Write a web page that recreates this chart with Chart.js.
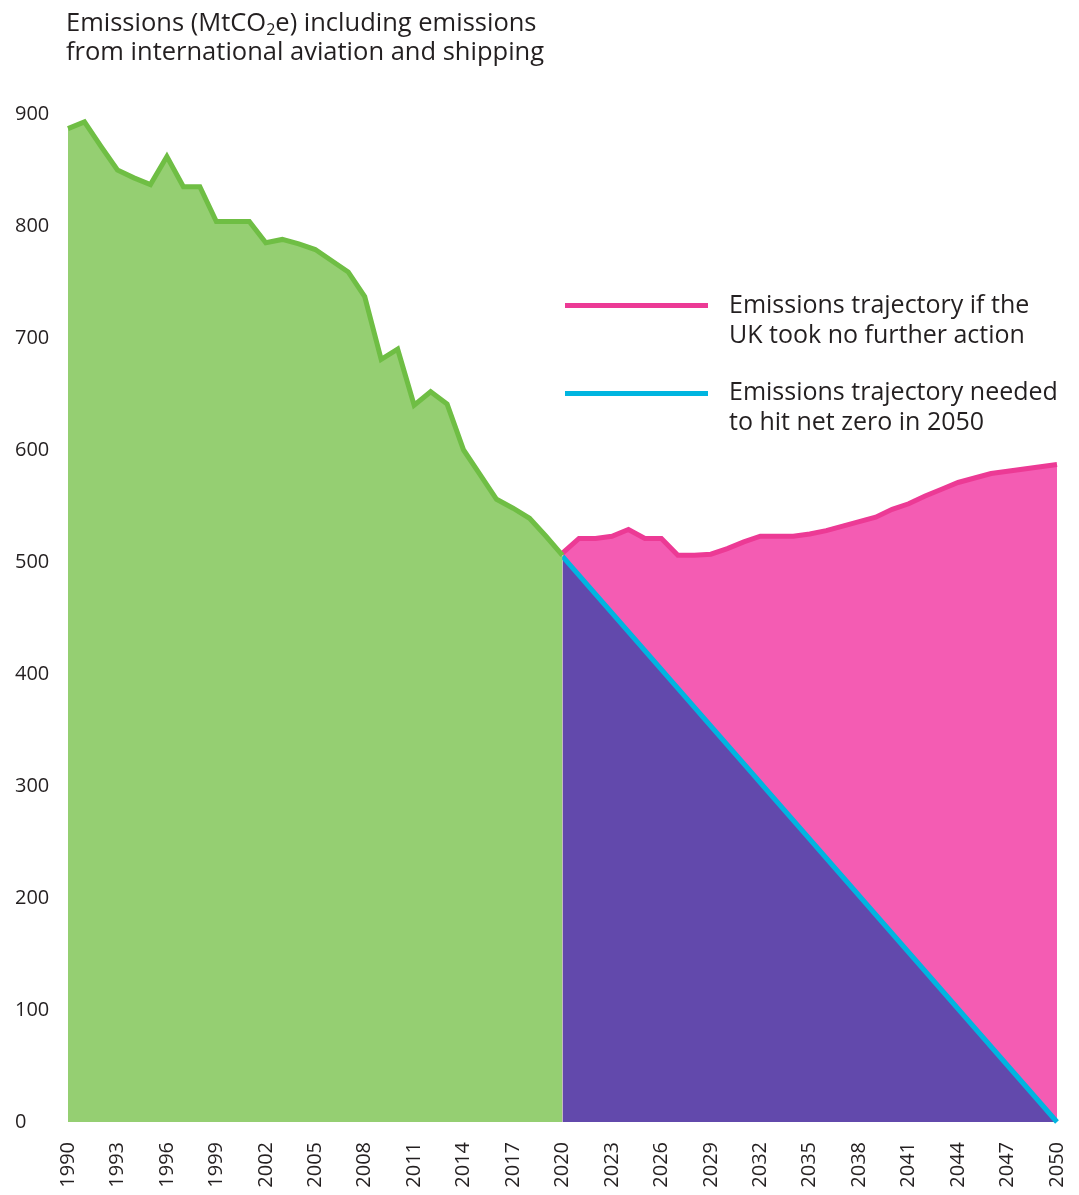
<!DOCTYPE html>
<html>
<head>
<meta charset="utf-8">
<script src="https://cdn.jsdelivr.net/npm/chart.js@4/dist/chart.umd.min.js"></script>
<style>
  html, body { margin: 0; padding: 0; background: #ffffff; }
  body { width: 1079px; height: 1195px; position: relative; overflow: hidden;
         font-family: "Open Sans", "Noto Sans", sans-serif; color: #231f20; }
  #wrap { position: absolute; left: 0; top: 0; width: 1079px; height: 1195px; }
  .title { position: absolute; left: 66px; top: 7px; font-size: 25.5px; line-height: 29px; white-space: nowrap; }
  .title sub { font-size: 16px; vertical-align: -4px; line-height: 0; }
  .legend-item { position: absolute; left: 565px; }
  .legend-swatch { position: absolute; left: 0; width: 143px; height: 5px; }
  .legend-text { position: absolute; left: 164px; font-size: 25px; line-height: 30px; white-space: nowrap; }
</style>
</head>
<body>
<div id="wrap"><canvas id="chart" width="1079" height="1195"></canvas></div>
<div class="title">Emissions (MtCO<sub>2</sub>e) including emissions<br>from international aviation and shipping</div>
<div id="legend"></div>
<script>
// Historic emissions, 1990–2020 (MtCO2e)
const historicYears = [1990, 1991, 1992, 1993, 1994, 1995, 1996, 1997, 1998, 1999, 2000,
  2001, 2002, 2003, 2004, 2005, 2006, 2007, 2008, 2009, 2010,
  2011, 2012, 2013, 2014, 2015, 2016, 2017, 2018, 2019, 2020];
const historicValues = [887, 893, 871, 850, 843, 837, 862, 835, 835, 804, 804,
  804, 785, 788, 784, 779, 769, 759, 737, 681, 690,
  640, 652, 641, 600, 578, 556, 548, 539, 523, 506];

// Projection with no further action, 2020–2050
const projectionYears = [2020, 2021, 2022, 2023, 2024, 2025, 2026, 2027, 2028, 2029, 2030,
  2031, 2032, 2033, 2034, 2035, 2036, 2037, 2038, 2039, 2040,
  2041, 2042, 2043, 2044, 2045, 2046, 2047, 2048, 2049, 2050];
const noActionValues = [508, 521, 521, 523, 529, 521, 521, 506, 506, 507, 512,
  518, 523, 523, 523, 525, 528, 532, 536, 540, 547,
  552, 559, 565, 571, 575, 579, 581, 583, 585, 587];

// Pathway to net zero in 2050
const netZeroYears = [2020, 2050];
const netZeroValues = [505, 0];

// Axis ticks
const xTickYears = [1990, 1993, 1996, 1999, 2002, 2005, 2008, 2011, 2014, 2017, 2020,
  2023, 2026, 2029, 2032, 2035, 2038, 2041, 2044, 2047, 2050];
const yTickValues = [0, 100, 200, 300, 400, 500, 600, 700, 800, 900];

// Legend entries
const legendLabels = [
  ["Emissions trajectory if the", "UK took no further action"],
  ["Emissions trajectory needed", "to hit net zero in 2050"]
];

const COLORS = {
  greenFill: '#95cf72', greenLine: '#6fbe44',
  pinkFill: '#f45cb3', pinkLine: '#ec3a95',
  purpleFill: '#6249ac', blueLine: '#00b5e0',
  text: '#231f20'
};

const toPoints = (xs, ys) => xs.map((x, i) => ({ x: x, y: ys[i] }));

// Legend markup
const legendEl = document.getElementById('legend');
const legendColors = [COLORS.pinkLine, COLORS.blueLine];
const legendTops = [288, 375];
legendLabels.forEach((lines, i) => {
  const item = document.createElement('div');
  item.className = 'legend-item';
  item.style.top = legendTops[i] + 'px';
  const sw = document.createElement('div');
  sw.className = 'legend-swatch';
  sw.style.background = legendColors[i];
  sw.style.top = (i === 0 ? 14.5 : 15.5) + 'px';
  const tx = document.createElement('div');
  tx.className = 'legend-text';
  tx.style.top = '0px';
  tx.innerHTML = lines.join('<br>');
  item.appendChild(sw);
  item.appendChild(tx);
  legendEl.appendChild(item);
});

const tickFont = { family: '"Open Sans", "Noto Sans", sans-serif', size: 20 };

new Chart(document.getElementById('chart'), {
  type: 'line',
  data: {
    datasets: [
      {
        label: 'Historic emissions',
        data: toPoints(historicYears, historicValues),
        borderColor: COLORS.greenLine,
        backgroundColor: COLORS.greenFill,
        borderWidth: 5,
        fill: 'origin',
        order: 0
      },
      {
        label: 'Net zero pathway',
        data: toPoints(netZeroYears, netZeroValues),
        borderColor: COLORS.blueLine,
        backgroundColor: COLORS.purpleFill,
        borderWidth: 5,
        fill: 'origin',
        order: 1
      },
      {
        label: 'No further action',
        data: toPoints(projectionYears, noActionValues),
        borderColor: COLORS.pinkLine,
        backgroundColor: COLORS.pinkFill,
        borderWidth: 5,
        fill: 'origin',
        order: 2
      }
    ]
  },
  options: {
    responsive: false,
    animation: false,
    events: [],
    layout: { padding: { top: 114, left: 15, right: 22, bottom: 0 } },
    elements: {
      point: { radius: 0, hoverRadius: 0 },
      line: { tension: 0, borderJoinStyle: 'miter', borderCapStyle: 'butt' }
    },
    datasets: { line: { clip: false } },
    plugins: {
      legend: { display: false },
      tooltip: { enabled: false },
      title: { display: false }
    },
    scales: {
      x: {
        type: 'linear',
        min: 1990,
        max: 2050,
        grid: { display: false, drawTicks: false },
        border: { display: false },
        afterBuildTicks: (axis) => { axis.ticks = xTickYears.map(v => ({ value: v })); },
        afterFit: (axis) => { axis.height = 73; axis.paddingLeft = 0; axis.paddingRight = 0; },
        ticks: {
          autoSkip: false,
          minRotation: 90,
          maxRotation: 90,
          padding: 20,
          color: COLORS.text,
          font: tickFont,
          callback: (v) => String(v)
        }
      },
      y: {
        type: 'linear',
        min: 0,
        max: 900,
        grid: { display: false, drawTicks: false },
        border: { display: false },
        afterBuildTicks: (axis) => { axis.ticks = yTickValues.map(v => ({ value: v })); },
        afterFit: (axis) => { axis.width = 53; axis.paddingTop = 0; axis.paddingBottom = 0; },
        ticks: {
          crossAlign: 'far',
          padding: 10,
          color: COLORS.text,
          font: tickFont,
          callback: (v) => String(v)
        }
      }
    }
  }
});
</script>
</body>
</html>
